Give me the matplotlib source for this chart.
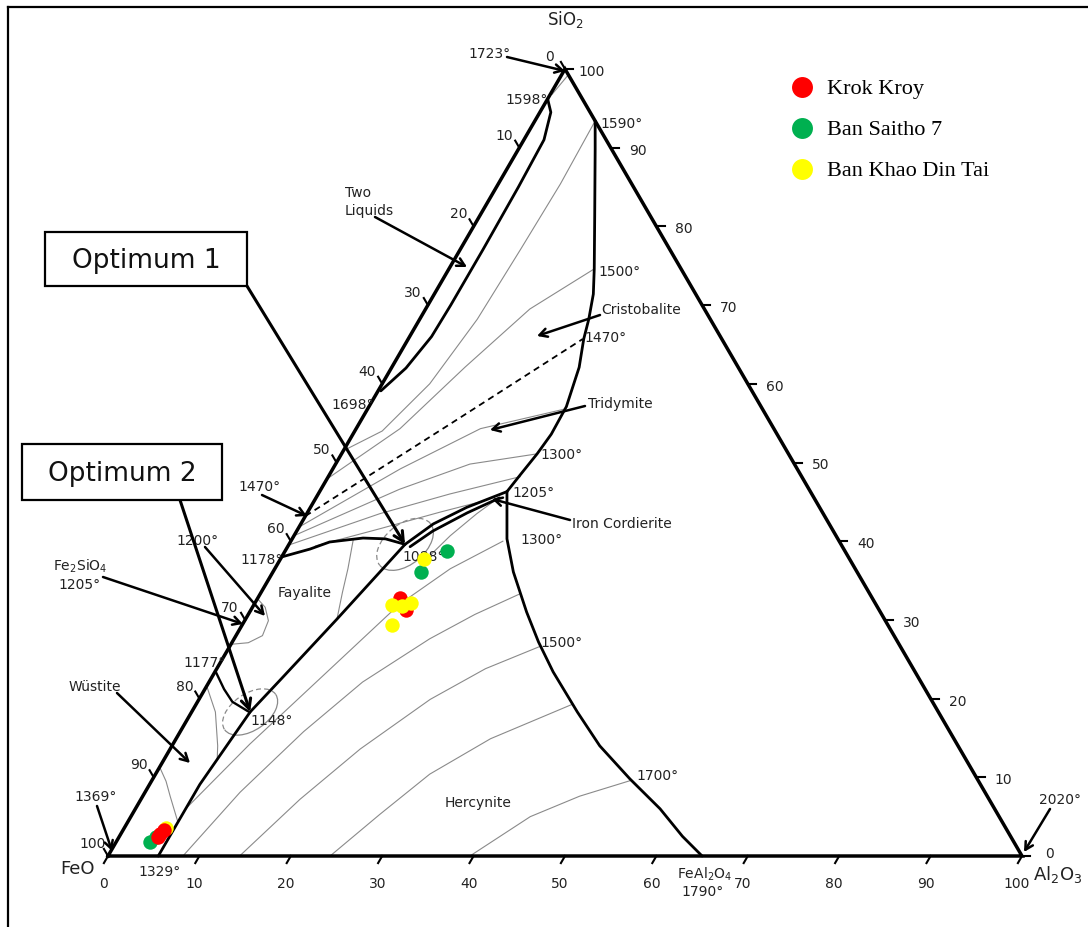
import numpy as np
import matplotlib
matplotlib.use("Agg")
import matplotlib.pyplot as plt
from matplotlib.patches import Arc, Rectangle
from matplotlib.lines import Line2D

plt.rcParams["font.family"] = ["DejaVu Sans"]
plt.rcParams["mathtext.default"] = "regular"

# ---------------- sample analyses, wt% (FeO is the balance to 100) ----------------
krok_kroy_al2o3 = [15.6, 16.9, 4.5, 4.3, 4.3]
krok_kroy_sio2 = [32.8, 31.3, 3.3, 2.8, 2.4]
ban_saitho_al2o3 = [17.7, 16.2, 3.7, 4.0]
ban_saitho_sio2 = [38.8, 36.1, 1.8, 2.4]
ban_khao_al2o3 = [15.7, 15.1, 16.3, 17.1, 16.4, 4.6]
ban_khao_sio2 = [37.7, 31.9, 31.8, 32.1, 29.4, 3.6]
site_names = ["Krok Kroy", "Ban Saitho 7", "Ban Khao Din Tai"]
site_colors = ["#ff0000", "#00b050", "#ffff00"]

tick_values = list(range(0, 101, 10))

# ---------------- FeO-Al2O3-SiO2 liquidus diagram, (Al2O3, SiO2) wt% ----------------
two_liquid_limit = [(0, 96.2), (1.2, 94.5), (2.2, 91), (2.4, 85), (2.5, 77),
                    (2.5, 70), (2.4, 66), (1.6, 62), (0.3, 59.1)]
silica_liquidus = [(6.6, 93.4), (8.4, 89.8), (12.6, 81.3), (15.9, 74.6), (17.4, 71.4),
                   (18.5, 68.2), (19.2, 65.7), (20.5, 62.1), (21.6, 57.1), (21.7, 53.6),
                   (21.4, 51.1), (20.9, 48.5), (20.5, 46.3)]
hercynite_liquidus = [(20.5, 46.3), (23.5, 40.3), (26.3, 36.1), (30.3, 31.0), (33.5, 27.2),
                      (37.0, 23.4), (42.2, 18.3), (46.8, 14.0), (52.2, 9.8), (57.4, 6.0),
                      (61.6, 2.5), (65.0, 0)]
cordierite_upper = [(20.5, 46.3), (17.1, 44.3), (14.5, 42.2), (12.7, 39.6)]
cordierite_lower = [(20.1, 45.5), (17.5, 43.6), (14.9, 41.3), (13.4, 39.3)]
fayalite_silica = [(0, 38.0), (2.6, 39.0), (4.3, 39.9), (7.7, 40.4), (10.2, 40.3), (12.7, 39.6)]
hercynite_olivine = [(12.7, 39.6), (10.0, 30.1), (7.7, 22.5), (6.4, 18.3), (5.5, 9.1), (5.5, 0)]
wustite_fayalite = [(0, 23.5), (2.1, 21.2), (3.8, 19.6), (6.1, 18.4), (6.4, 18.3)]
cristobalite_tridymite = [(0, 43.2), (10.0, 54.9), (19.1, 65.7)]

isotherms = [
    [(0.7, 99.1), (0.2, 96.8)],
    [(6.6, 93.4), (6.8, 85.4), (6.6, 77.1), (6.3, 68.2), (5.2, 60.0), (3.0, 54.0), (0, 51.5)],
    [(15.9, 74.6), (11.4, 69.5), (8.0, 62.1), (4.8, 54.3), (0, 47.9)],
    [(21.6, 56.8), (13.6, 54.3), (7.4, 49.2), (0, 41.8)],
    [(21.4, 51.1), (14.7, 49.8), (8.6, 46.6), (0, 40.7)],
    [(21.0, 48.2), (14.4, 46.0), (8.0, 43.5), (0, 39.5)],
    [(18.2, 45.0), (14.5, 43.7), (9.0, 41.6), (3.0, 39.4)],
    [(6.7, 40.3), (8.0, 36.5), (8.9, 33.5), (10.0, 30.1)],
    [(0, 32.7), (1.4, 31.6), (2.6, 29.9), (2.9, 28.0), (1.8, 27.1), (0, 26.9)],
    [(0, 21.6), (2.6, 18.3), (5.0, 14.0), (5.8, 12.3)],
    [(0, 11.3), (1.6, 9.5), (3.0, 7.6), (5.5, 4.3)],
    [(15.8, 37.3), (17.1, 40.7), (18.6, 43.5), (19.9, 45.4)],
    [(5.5, 6.0), (8.4, 14.2), (11.9, 22.5), (15.9, 32.0), (19.2, 36.5), (23.2, 40.0)],
    [(8.2, 0), (10.4, 8.1), (13.5, 15.8), (16.8, 22.1), (21.4, 27.6), (24.8, 30.7), (28.4, 33.3)],
    [(14.4, 0), (17.4, 7.2), (20.8, 13.6), (25.3, 19.9), (29.4, 23.8), (33.9, 26.6)],
    [(24.3, 0), (27.1, 5.3), (30.0, 10.4), (34.4, 14.9), (41.2, 19.3)],
    [(39.6, 0), (43.7, 5.0), (47.8, 7.6), (52.4, 9.6)],
]

eutectic_1088 = (12.7, 39.6)
eutectic_1148 = (6.4, 18.3)

# ---------------- figure layout (pixels, origin top-left) ----------------
W, H = 1088, 928
TRI_LEFT, TRI_RIGHT, TRI_BASE, TRI_TOP = 108, 1022, 857, 70
R3 = np.sqrt(3) / 2


def tern(pairs):
    arr = np.asarray(pairs, float)
    al, si = arr[..., 0], arr[..., 1]
    return al + si / 2, si * R3


def fp(x, y):
    return (x, H - y)


fig = plt.figure(figsize=(W / 100, H / 100), dpi=100)
fig.patch.set_facecolor("white")
ax = fig.add_axes([0, 0, 1, 1])
sx = (TRI_RIGHT - TRI_LEFT) / 100.0
sy = (TRI_BASE - TRI_TOP) / (100.0 * R3)
ax.set_xlim(-TRI_LEFT / sx, (W - TRI_LEFT) / sx)
ax.set_ylim((TRI_BASE - H) / sy, TRI_BASE / sy)
ax.axis("off")

# outer frame (left and top)
fig.add_artist(Line2D([8 / W, 8 / W], [0, 1 - 8 / H], color="black", lw=1.6,
                      transform=fig.transFigure))
fig.add_artist(Line2D([8 / W, 1], [1 - 8 / H, 1 - 8 / H], color="black", lw=1.6,
                      transform=fig.transFigure))

GREY = "#8a8a8a"
for iso in isotherms:
    ax.plot(*tern(iso), color=GREY, lw=0.8, zorder=1)

# small envelopes around the two eutectics
for (centre, w_, h_, ang) in [(eutectic_1148, 6.8, 4.0, 35), (eutectic_1088, 7.2, 4.4, 40)]:
    cx, cy = tern(centre)
    ax.add_patch(Arc((cx, cy), w_, h_, angle=ang, theta1=180, theta2=360,
                     color=GREY, lw=0.9, zorder=1))
    ax.add_patch(Arc((cx, cy), w_, h_, angle=ang, theta1=0, theta2=180,
                     color=GREY, lw=0.9, ls=(0, (4, 2.5)), zorder=1))

ax.plot(*tern(cristobalite_tridymite), color="black", lw=1.3, ls=(0, (3.5, 2.5)), zorder=2)

for curve in [two_liquid_limit, silica_liquidus, hercynite_liquidus, cordierite_upper,
              cordierite_lower, fayalite_silica, hercynite_olivine]:
    ax.plot(*tern(curve), color="black", lw=2.0, zorder=3, solid_capstyle="round",
            solid_joinstyle="round")
ax.plot(*tern(wustite_fayalite), color="black", lw=1.7, zorder=3)

# triangle
corners = [(0, 0), (100, 0), (0, 100), (0, 0)]
ax.plot(*tern(corners), color="black", lw=2.5, zorder=3, solid_joinstyle="miter")

# ticks and scale labels
TL = 0.9
for v in tick_values:
    # FeO-Al2O3 base : Al2O3 wt%
    x0, y0 = tern((v, 0))
    x1, y1 = tern((v, -TL))
    ax.plot([x0, x1], [y0, y1], color="black", lw=1.5, zorder=3)
    ax.annotate(str(v), (x0, y0), xytext=(-5, -27), textcoords="offset pixels",
                ha="center", va="center", fontsize=10, color="#222222")
    # Al2O3-SiO2 side : SiO2 wt%
    x0, y0 = tern((100 - v, v))
    x1, y1 = tern((100 - v + TL, v))
    ax.plot([x0, x1], [y0, y1], color="black", lw=1.5, zorder=3)
    ax.annotate(str(v), (x0, y0), xytext=(27, 3 if v == 0 else -2),
                textcoords="offset pixels", ha="center", va="center", fontsize=10,
                color="#222222")
    # SiO2-FeO side : FeO wt%
    x0, y0 = tern((0, 100 - v))
    x1, y1 = tern((-TL, 100 - v + TL))
    ax.plot([x0, x1], [y0, y1], color="black", lw=1.5, zorder=3)
    ax.annotate(str(v), (x0, y0), xytext=(-15, 13), textcoords="offset pixels",
                ha="center", va="center", fontsize=10, color="#222222")

# ---------------- labels ----------------
labels = [
    ("SiO$_2$", 565, 20, 12), ("1723°", 490, 54, 10), ("1598°", 527, 100, 10),
    ("1590°", 622, 124, 10), ("1500°", 620, 272, 10), ("Cristobalite", 641, 310, 10),
    ("1470°", 606, 338, 10), ("1698°", 353, 405, 10), ("Tridymite", 620, 404, 10),
    ("1300°", 561, 455, 10), ("1470°", 260, 487, 10), ("1205°", 534, 493, 10),
    ("Iron Cordierite", 622, 524, 10), ("1300°", 542, 540, 10), ("1178°", 262, 560, 10),
    ("1200°", 198, 541, 10), ("1088°", 424, 557, 10), ("Fe$_2$SiO$_4$", 80, 566, 10),
    ("1205°", 80, 585, 10), ("Fayalite", 305, 593, 10), ("1500°", 561, 643, 10),
    ("1177°", 205, 663, 10), ("Wüstite", 95, 687, 10), ("1148°", 272, 721, 10),
    ("1700°", 657, 776, 10), ("1369°", 96, 797, 10), ("Hercynite", 478, 803, 10),
    ("FeO", 77, 869, 13), ("1329°", 160, 872, 10), ("FeAl$_2$O$_4$", 705, 874, 10),
    ("1790°", 703, 892, 10), ("2020°", 1060, 800, 10), ("Al$_2$O$_3$", 1058, 875, 13),
]
for s, x, y, fs in labels:
    ax.annotate(s, fp(x, y), xycoords="figure pixels", ha="center", va="center",
                fontsize=fs, color="#222222", zorder=4)
ax.annotate("Two\nLiquids", fp(345, 202), xycoords="figure pixels", ha="left", va="center",
            fontsize=10, color="#222222", linespacing=1.3)

arrows = [
    ((507, 58), (565, 72)), ((375, 218), (467, 268)), ((600, 316), (537, 337)),
    ((585, 407), (490, 431)), ((570, 521), (492, 500)), ((262, 496), (307, 517)),
    ((205, 548), (265, 617)), ((103, 578), (243, 625)), ((117, 694), (190, 764)),
    ((97, 807), (112, 852)), ((1050, 810), (1024, 853)),
]
for tail, head in arrows:
    ax.annotate("", xy=fp(*head), xycoords="figure pixels", xytext=fp(*tail),
                textcoords="figure pixels",
                arrowprops=dict(arrowstyle="->,head_length=0.55,head_width=0.3", lw=1.8,
                                color="black", shrinkA=0, shrinkB=0), zorder=4)

# optimum call-outs
for text, (x0, y0, x1, y1) in [("Optimum 1", (45, 233, 247, 287)),
                               ("Optimum 2", (22, 445, 222, 501))]:
    fig.add_artist(Rectangle((x0 / W, 1 - y1 / H), (x1 - x0) / W, (y1 - y0) / H,
                             transform=fig.transFigure, fill=True, facecolor="white",
                             edgecolor="black", lw=1.6, zorder=5))
    fig.text((x0 + x1) / 2 / W, 1 - ((y0 + y1) / 2 + 1) / H, text, ha="center",
             va="center", fontsize=19, color="#111111", zorder=6)
for (tail, target) in [((247, 287), eutectic_1088), ((180, 501), eutectic_1148)]:
    ax.annotate("", xy=tern(target), xycoords="data", xytext=fp(*tail),
                textcoords="figure pixels",
                arrowprops=dict(arrowstyle="->,head_length=0.7,head_width=0.35", lw=2.2,
                                color="black", shrinkA=0, shrinkB=0), zorder=4)

# ---------------- sample points ----------------
MS = 108
h_green = ax.scatter(*tern(list(zip(ban_saitho_al2o3, ban_saitho_sio2))), s=MS,
                     color=site_colors[1], zorder=6, linewidths=0)
ky = np.array(list(zip(ban_khao_al2o3, ban_khao_sio2)))
corner = ky[:, 1] < 10
ax.scatter(*tern(ky[corner]), s=MS, color=site_colors[2], zorder=6.5, linewidths=0)
h_red = ax.scatter(*tern(list(zip(krok_kroy_al2o3, krok_kroy_sio2))), s=MS,
                   color=site_colors[0], zorder=7, linewidths=0)
h_yellow = ax.scatter(*tern(ky[~corner]), s=MS, color=site_colors[2], zorder=8, linewidths=0)

fig.legend([h_red, h_green, h_yellow], site_names, loc="upper left",
           bbox_to_anchor=(791 / W, 1 - 78 / H), bbox_transform=fig.transFigure,
           frameon=False, prop={"family": "Liberation Serif", "size": 16},
           markerscale=1.45, handlelength=1.0, handletextpad=0.6, labelspacing=0.92,
           borderpad=0, borderaxespad=0, scatterpoints=1)

fig.savefig("out.png", dpi=100, facecolor="white")
